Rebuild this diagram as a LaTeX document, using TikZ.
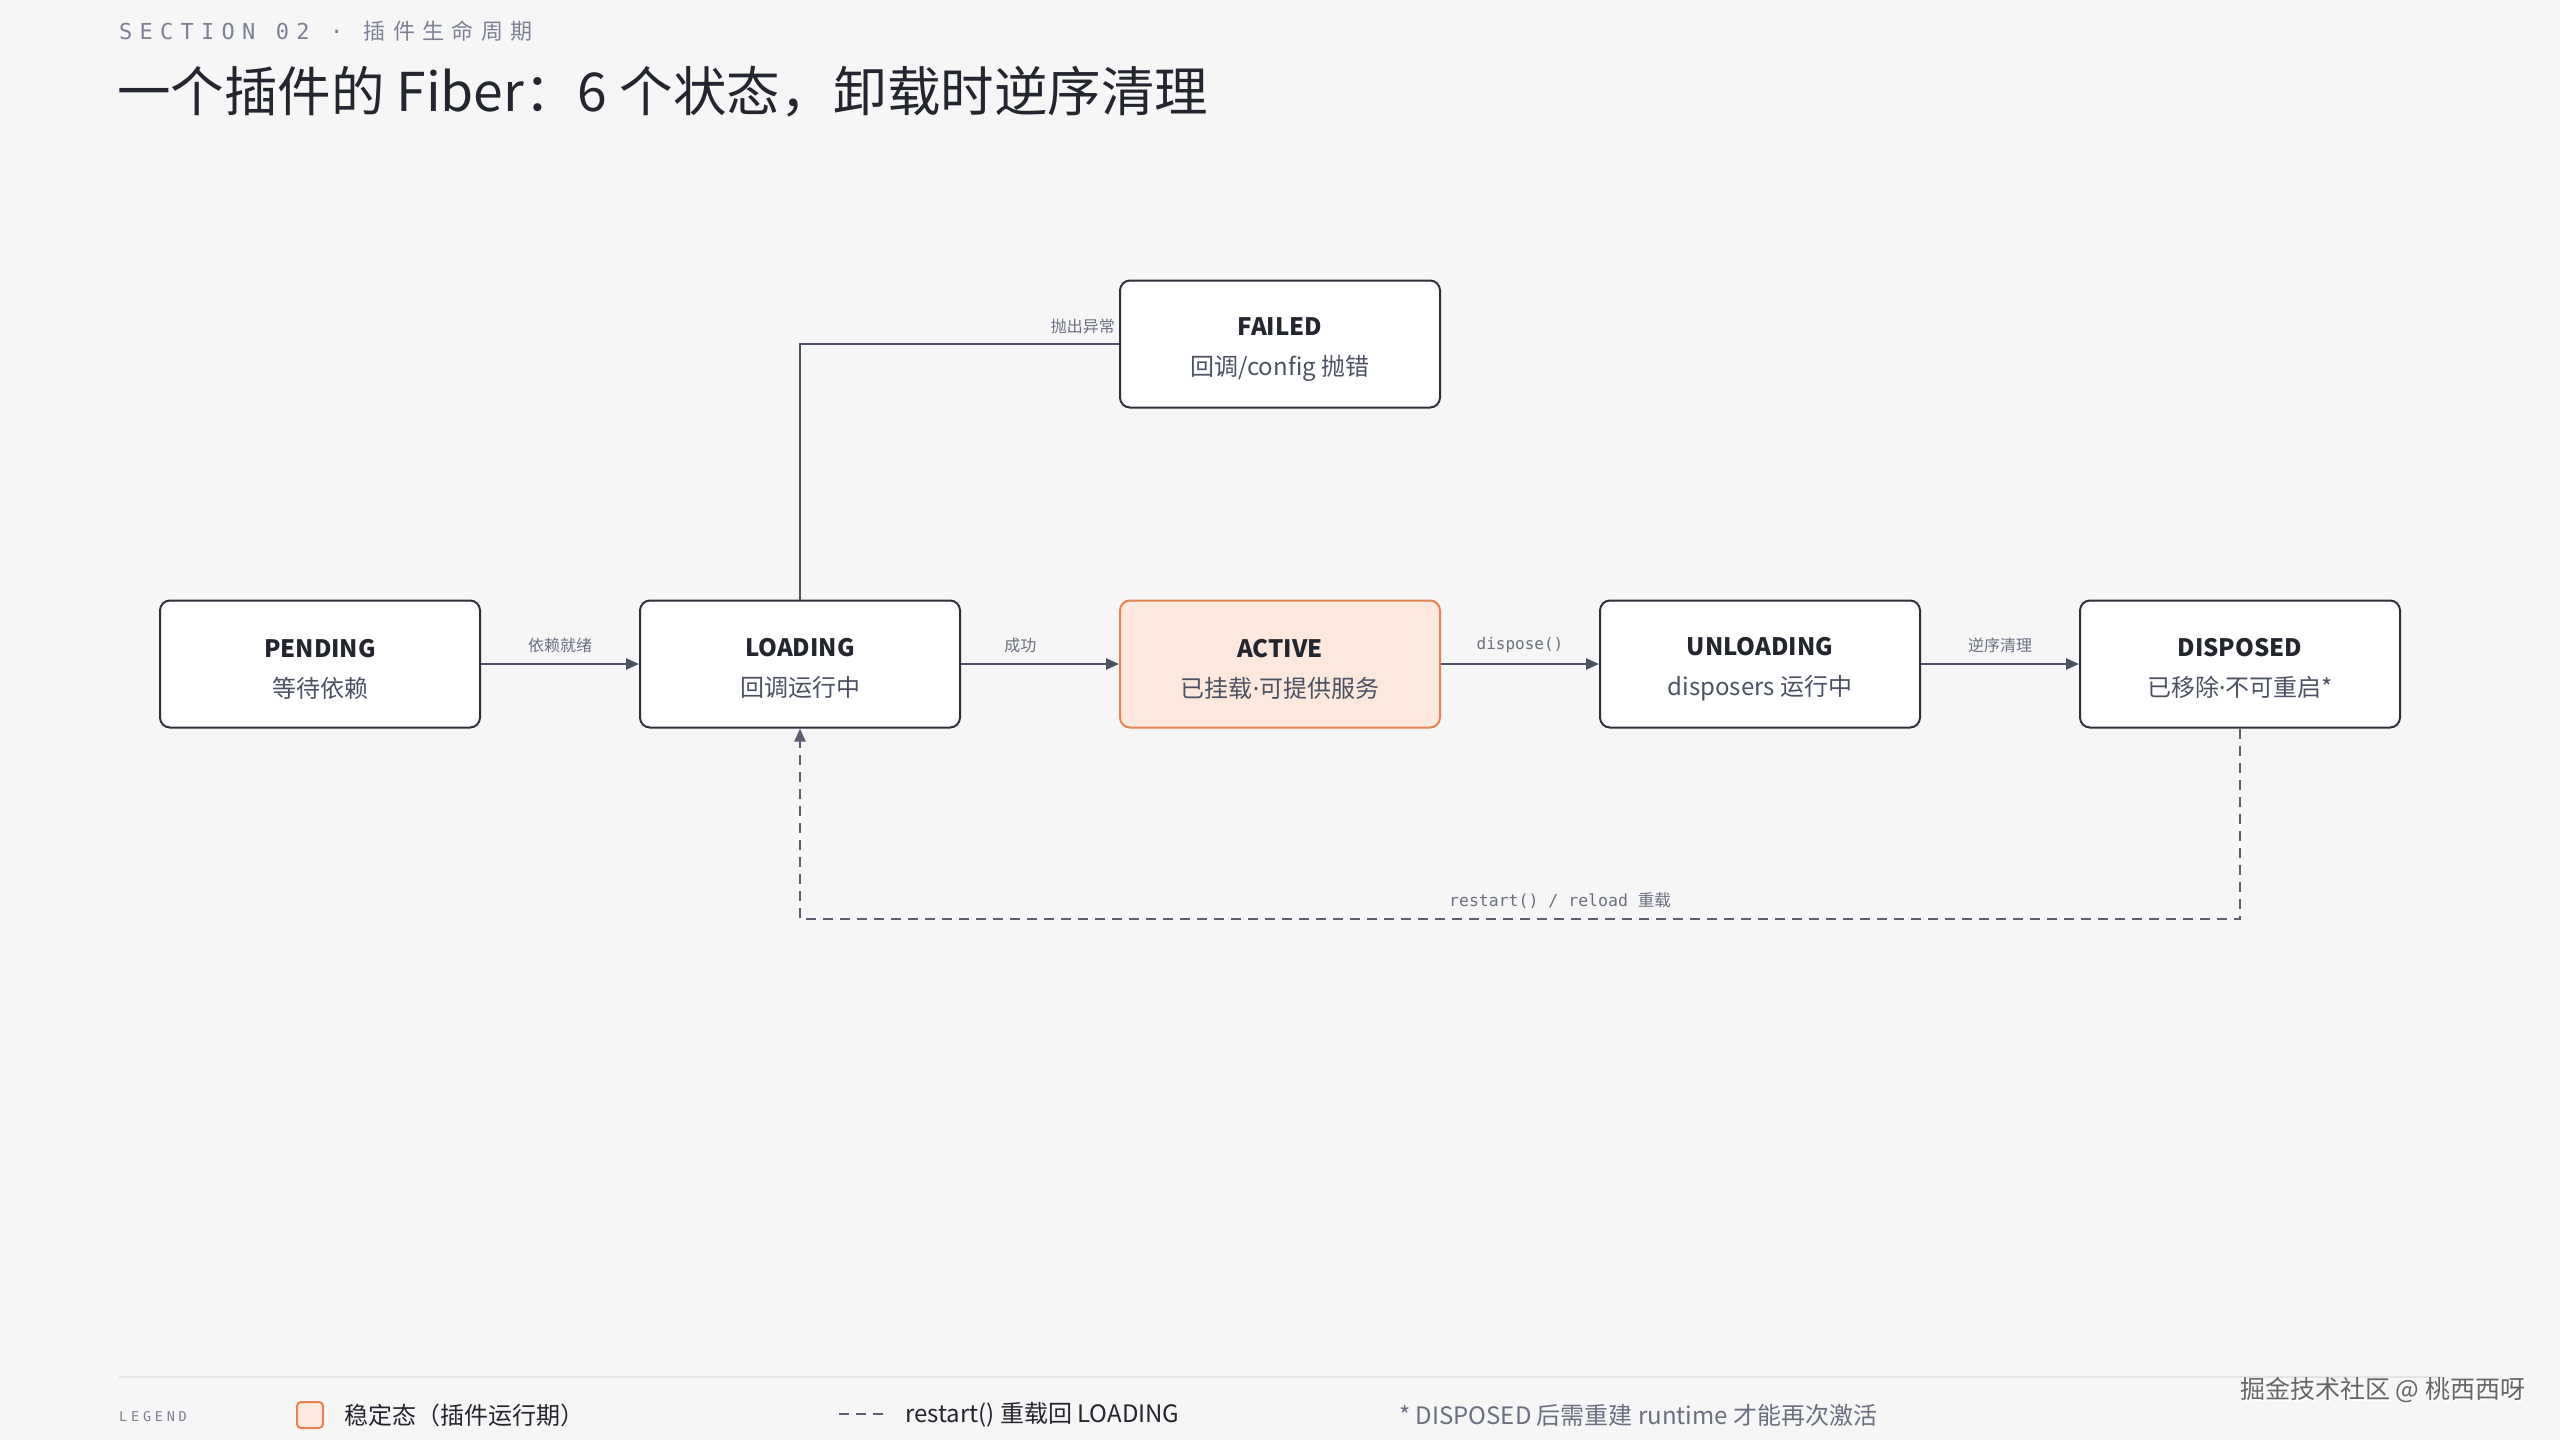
\documentclass[tikz,border=0pt]{standalone}
\usepackage{fontspec}
\setmainfont{Noto Sans CJK SC}
\newfontfamily\monofont{DejaVu Sans Mono}
\newfontfamily\monols[LetterSpace=33]{DejaVu Sans Mono}
\newfontfamily\monolsb[LetterSpace=28]{DejaVu Sans Mono}
\newfontfamily\cjkls[LetterSpace=33]{Noto Sans CJK SC}
\newfontfamily\latinsans{Noto Sans}
\usetikzlibrary{arrows.meta}
\definecolor{bgc}{HTML}{F6F6F6}
\definecolor{boxborder}{HTML}{2E3039}
\definecolor{darktext}{HTML}{23262E}
\definecolor{subtext}{HTML}{4B5263}
\definecolor{edgetext}{HTML}{6B7080}
\definecolor{arrowc}{HTML}{4A5366}
\definecolor{orangeb}{HTML}{E8824F}
\definecolor{peach}{HTML}{FDE8DE}
\definecolor{headc}{HTML}{7C8294}
\definecolor{sepc}{HTML}{E4E4E4}
\definecolor{dashc}{HTML}{5A6070}
\tikzset{
  statebox/.style={draw=boxborder, line width=2pt, fill=white, rounded corners=10pt,
    minimum width=320pt, minimum height=127pt, align=center, inner sep=0pt,
    font=\fontsize{24}{40}\selectfont, text=subtext},
  activebox/.style={statebox, draw=orangeb, fill=peach},
  flow/.style={draw=arrowc, line width=2.5pt, -{Triangle[length=13pt,width=11pt]}},
  plainflow/.style={draw=arrowc, line width=2pt},
  restartflow/.style={draw=dashc, line width=2pt, dash pattern=on 10pt off 7pt, -{Triangle[length=13pt,width=11pt]}},
  elabel/.style={font=\fontsize{16}{18}\selectfont, text=edgetext, inner sep=0pt},
  mlabel/.style={font=\monofont\fontsize{16}{18}\selectfont, text=edgetext, inner sep=0pt},
  legtext/.style={anchor=west, inner sep=0pt, text=darktext, font=\fontsize{24}{26}\selectfont},
}
\newcommand{\stt}[2]{\rule{0pt}{28pt}{\bfseries\color{darktext}#1}\\#2}
\newcommand{\mdot}{{\latinsans ·}}
\begin{document}
\begin{tikzpicture}[x=1pt,y=-1pt]
\fill[bgc] (0,0) rectangle (2560,1440);
\useasboundingbox (0,0) rectangle (2560,1440);

% header
\node[anchor=west, inner sep=0pt, text=headc, font=\fontsize{22}{24}\selectfont] (sec) at (119,31)
  {{\monols SECTION 02 · }{\cjkls 插件生命周期}};
\node[anchor=base west, inner sep=0pt, text=darktext, font=\fontsize{53.5}{60}\selectfont] (title) at (117,111)
  {一个插件的 Fiber：6 个状态，卸载时逆序清理};

% states
\node[statebox] (pending) at (320,664) {\stt{PENDING}{等待依赖}};
\node[statebox] (loading) at (800,664) {\stt{LOADING}{回调运行中}};
\node[activebox] (active) at (1280,664) {\stt{ACTIVE}{已挂载\mdot 可提供服务}};
\node[statebox] (unloading) at (1760,664) {\stt{UNLOADING}{disposers 运行中}};
\node[statebox] (disposed) at (2240,664) {\stt{DISPOSED}{已移除\mdot 不可重启*}};
\node[statebox] (failed) at (1280,344) {\stt{FAILED}{回调/config 抛错}};

% transitions
\draw[flow] (pending) -- (loading) node[elabel, midway, above=10pt] {依赖就绪};
\draw[flow] (loading) -- (active) node[elabel, pos=0.375, above=10pt] {成功};
\draw[flow] (active) -- (unloading) node[mlabel, midway, above=10pt] {dispose()};
\draw[flow] (unloading) -- (disposed) node[elabel, midway, above=10pt] {逆序清理};
\draw[plainflow] (loading.north) |- (failed.west) node[elabel, pos=0.995, above=9pt, anchor=south east] {抛出异常};

\coordinate (rb) at (2240,919);
\coordinate (lb) at (800,919);
\draw[restartflow] (disposed.south) -- (rb) -- (lb) -- (loading.south);
\node[inner sep=0pt, text=edgetext, font=\fontsize{16.5}{18}\selectfont] (rlabel) at (1560,901)
  {{\monofont restart() / reload }重载};

% legend
\coordinate (sepl) at (119,1377);
\coordinate (sepr) at (2441,1377);
\draw[sepc, line width=2pt] (sepl) -- (sepr);
\node[anchor=west, inner sep=0pt, text=headc, font=\monolsb\fontsize{13.5}{15}\selectfont] (legend) at (119,1417) {LEGEND};
\node[draw=orangeb, fill=peach, line width=2pt, rounded corners=4pt, minimum size=26pt, inner sep=0pt] (lsq) at (310,1415) {};
\node[legtext] (l1) at (344,1415) {稳定态（插件运行期）};
\coordinate (ld1) at (839,1414);
\coordinate (ld2) at (889,1414);
\draw[dashc, line width=2pt, dash pattern=on 10pt off 7pt] (ld1) -- (ld2);
\node[legtext] (l2) at (905,1415) {restart() 重载回 LOADING};
\node[legtext, text=edgetext] (l3) at (1399,1415) {* DISPOSED 后需重建 runtime 才能再次激活};

% watermark
\node[anchor=west, inner sep=0pt, text=white, font=\fontsize{25}{27}\selectfont] (wms) at (2242,1392) {掘金技术社区 @ 桃西西呀};
\node[anchor=west, inner sep=0pt, text=black!60, font=\fontsize{25}{27}\selectfont] (wm) at (2240,1390) {掘金技术社区 @ 桃西西呀};
\end{tikzpicture}
\end{document}
